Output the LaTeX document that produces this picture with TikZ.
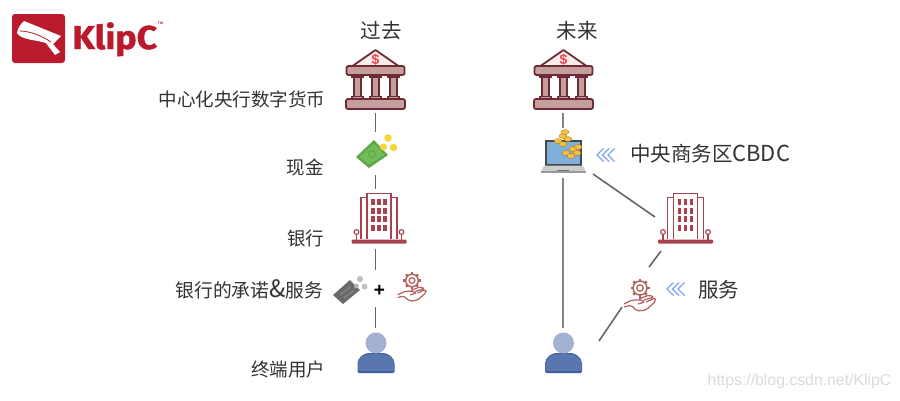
\documentclass[tikz,border=0pt]{standalone}
\usepackage{fontspec}
\setmainfont{Noto Sans CJK SC}
\newfontfamily\latinf{Liberation Sans}
\newfontfamily\logof{Fira Sans}[UprightFont=* Bold,FakeBold=1.2,FakeStretch=1.08]
\definecolor{bankline}{HTML}{6E2B35}
\definecolor{bankfill}{HTML}{C49F9C}
\definecolor{roofpale}{HTML}{FBEEE9}
\definecolor{dollar}{HTML}{EE3F4A}
\definecolor{bldg}{HTML}{A8434E}
\definecolor{svc}{HTML}{B4605F}
\definecolor{headc}{HTML}{A3B2D2}
\definecolor{bodyc}{HTML}{5A76AE}
\definecolor{bodyd}{HTML}{3F5E9F}
\definecolor{logored}{HTML}{BA1B2C}
\definecolor{chev}{HTML}{80A6F2}
\definecolor{txt}{HTML}{333333}
\definecolor{conn}{HTML}{666666}
\definecolor{cashd}{HTML}{5CA845}
\definecolor{cashl}{HTML}{72BC58}
\definecolor{coin}{HTML}{F4D63E}
\definecolor{gold}{HTML}{EFC443}
\definecolor{screen}{HTML}{7FB0DC}
\tikzset{
  x=1pt,y=-1pt,
  anchorbox/.style={inner sep=0pt,outer sep=0pt,minimum width=10pt},
  lab/.style={inner sep=0pt,outer sep=0pt,text=txt,font=\fontsize{18.5}{20}\selectfont},
  head/.style={inner sep=0pt,outer sep=0pt,text=txt,font=\fontsize{20.5}{22}\selectfont},
  link/.style={draw=conn,line width=1.6pt},
  linkgrey/.style={draw=black!48,line width=2pt},
  bank/.pic={
    \draw[bankline,line width=1.8pt,fill=roofpale,line join=round] (-23,-15) -- (0,-31) -- (23,-15) -- cycle;
    \node[inner sep=0pt,text=dollar,font=\latinf\bfseries\fontsize{14}{14}\selectfont] at (0,-21) {\$};
    \foreach \c in {-18,0,18}{
      \draw[bankline,line width=1.6pt,fill=bankfill] (\c-3.5,-5) rectangle (\c+3.5,17);
      \draw[bankline,line width=1.6pt,fill=bankfill] (\c-5.5,-6) rectangle (\c+5.5,-4);
      \draw[bankline,line width=1.6pt,fill=bankfill] (\c-5.5,15.5) rectangle (\c+5.5,18);
    }
    \draw[bankline,line width=1.8pt,fill=bankfill,rounded corners=2pt] (-29,-15) rectangle (29,-6);
    \draw[bankline,line width=1.8pt,fill=bankfill,rounded corners=2pt] (-29.5,18) rectangle (29.5,28);
  },
  building/.pic={
    \draw[bldg,line width=1.8pt] (-12,48) -- (-12,6.5) -- (-18,6.5) -- (-18,48);
    \draw[bldg,line width=1.8pt] (12,48) -- (12,6.5) -- (18,6.5) -- (18,48);
    \draw[bldg,line width=1.8pt] (-12,48) -- (-12,2.5) -- (12,2.5) -- (12,48);
    \foreach \i in {-6,0,6}\foreach \j in {11,20,28,37}
      \fill[bldg] (\i-1.6,\j-2.8) rectangle (\i+1.6,\j+2.8);
    \foreach \t in {-22.5,22.5}{
      \draw[bldg,line width=1.1pt] (\t,41) circle[radius=2.4pt];
      \draw[bldg,line width=1.1pt] (\t,43.4) -- (\t,49);
    }
    \fill[bldg,rounded corners=1pt] (-27.5,48.5) rectangle (27.5,52.5);
  },
  service/.pic={
    \foreach \a in {0,45,...,315}\draw[svc,line width=2.2pt] (\a:6.6) -- (\a:9.5);
    \draw[svc,line width=1.4pt] (0,0) circle[radius=7pt];
    \draw[svc,line width=1.2pt] (0,0) circle[radius=3.2pt];
    \draw[svc,line width=1.2pt,line join=round,rounded corners=2pt]
      (-16,16) -- (-8,12) -- (2,12) -- (5,14) -- (-2,16) (-16,19) -- (-9,17) -- (-3,23) -- (6,22) -- (16,13) -- (15,10) -- (6,14) (4,12) -- (14,9) -- (9,7) -- (-1,11);
  },
  person/.pic={
    \fill[bodyd,rounded corners=1.5pt] (-18.5,30) -- (-18.5,22) .. controls (-18.5,14) and (-11,10) .. (-6,10) -- (6,10) .. controls (11,10) and (18.5,14) .. (18.5,22) -- (18.5,30) -- cycle;
    \fill[bodyc,rounded corners=1pt] (-18,28) -- (-18,22) .. controls (-18,15) and (-11,11) .. (-6,11) -- (6,11) .. controls (11,11) and (18,15) .. (18,22) -- (18,28) -- cycle;
    \fill[headc] (0,0) circle[radius=10.5pt];
  },
  chevrons/.pic={
    \foreach \d in {0,5.5,11}
      \draw[chev,line width=1.3pt] (\d+6.5,-6.5) -- (\d,0) -- (\d+6.5,6.5);
  }
}
\begin{document}
\begin{tikzpicture}
\useasboundingbox (0,0) rectangle (900,400);
\fill[white] (0,0) rectangle (900,400);

% logo
\fill[logored,rounded corners=3pt] (12,14) rectangle (65,63);
\fill[white,line join=round] (17,33) .. controls (18,27) and (21,24) .. (24,21) -- (61,36) -- (53,44) -- (60,52) -- (55,55) -- (46,43) .. controls (36,40) and (26,40) .. (20,36) -- cycle;
\draw[logored,line width=.8pt] (20,31) .. controls (30,31) and (42,36) .. (51,42);
\node[inner sep=0pt,anchor=base west,text=logored,font=\logof\fontsize{33}{33}\selectfont] (logotext) at (72,49) {KlipC};
\node[inner sep=0pt,text=logored,font=\latinf\bfseries\fontsize{3.5}{4}\selectfont] (tm) at (160.5,23.5) {TM};

% headings
\node[head] (h1) at (381,31) {过去};
\node[head] (h2) at (577,31) {未来};

% left labels
\node[lab,anchor=east] (l1) at (325,99) {中心化央行数字货币};
\node[lab,anchor=east] (l2) at (323.5,167) {现金};
\node[lab,anchor=east] (l3) at (324,238) {银行};
\node[lab,anchor=east,font=\fontsize{18.8}{20}\selectfont] (l4) at (323.5,289) {银行的承诺{\fontsize{24}{24}\selectfont\&}服务};
\node[lab,anchor=east] (l5) at (325,369) {终端用户};

% right labels
\node[lab,anchor=west,font=\fontsize{20.5}{22}\selectfont] (r1) at (630,154) {中央商务区{\fontsize{22}{22}\selectfont CBDC}};
\node[lab,anchor=west,font=\fontsize{20.5}{22}\selectfont] (r2) at (698,290) {服务};

% anchors for the connectors
\node[anchorbox,minimum height=62pt] (bankA) at (375.5,82) {};
\node[anchorbox,minimum height=43pt] (cashA) at (375.5,153.5) {};
\node[anchorbox,minimum height=60pt] (bldgA) at (375.5,219) {};
\node[anchorbox,minimum height=37pt] (promA) at (375.5,288.5) {};
\node[anchorbox,minimum height=44pt] (userA) at (375.5,350) {};
\node[anchorbox,minimum height=62pt] (bankB) at (563,82) {};
\node[anchorbox,minimum height=50pt] (lapB) at (563,153) {};
\node[anchorbox,minimum height=44pt] (userB) at (563,350) {};
\coordinate (lapOut) at (593,174);
\coordinate (bldgIn) at (655,217);
\coordinate (bldgOut) at (661,251);
\coordinate (svcIn) at (649,267);
\coordinate (svcOut) at (622,307);
\coordinate (userIn) at (599,341);

% connectors
\draw[link] (bankA.south) -- (cashA.north);
\draw[link] (cashA.south) -- (bldgA.north);
\draw[link] (bldgA.south) -- (promA.north);
\draw[link] (promA.south) -- (userA.north);
\draw[linkgrey] (bankB.south) -- (lapB.north);
\draw[linkgrey] (lapB.south) -- (userB.north);
\draw[link] (lapOut) -- (bldgIn);
\draw[link] (bldgOut) -- (svcIn);
\draw[link] (svcOut) -- (userIn);

% icons
\pic at (375.5,81) {bank};
\pic at (563.5,81) {bank};
\pic at (379,191) {building};
\pic at (685.5,191) {building};
\pic at (376,343) {person};
\pic at (563.5,343) {person};

% cash
\fill[cashd] (356,157) -- (374,140) -- (388,155) -- (369,168) -- cycle;
\fill[cashl] (359.5,157) -- (374,143.5) -- (384.5,155) -- (369,164.5) -- cycle;
\draw[cashd,line width=.8pt] (372,154) circle[radius=3.5pt];
\fill[coin] (388,138) circle[radius=3.8pt];
\fill[coin] (393.5,147.5) circle[radius=3.8pt];
\fill[coin] (383.5,147) circle[radius=3.6pt];

% promise ticket
\fill[black!58] (333,295) -- (350,280) -- (360,290) -- (343,304) -- cycle;
\draw[black!40,line width=.6pt] (340,295) -- (350,287) (344,298) -- (353,291);
\fill[black!25] (360,279) circle[radius=3.2pt];
\fill[black!25] (364.5,286.5) circle[radius=3pt];
\fill[black!30] (356.5,286) circle[radius=2.4pt];
\node[inner sep=0pt,text=black,font=\latinf\bfseries\fontsize{19}{20}\selectfont] (plus) at (379.5,290.5) {+};

% service
\pic[scale=.9] at (412,280.5) {service};
\pic at (640,288) {service};

% laptop
\fill[black!72] (545,139.5) rectangle (582,165.5);
\fill[screen] (547,141.5) rectangle (580,163.5);
\fill[black!20,rounded corners=1pt] (544,165.5) -- (583,165.5) -- (585.5,171) -- (541,171) -- cycle;
\fill[black!40] (541,171) rectangle (585.5,173);
\fill[black!55] (557,169.5) rectangle (569,171);
\foreach \p/\q in {558/141,563/136,568/139,565/132,563/144,566/153,573/149,571/156,577/153,578/147}
  \fill[gold,draw=orange!70!black,line width=.25pt] (\p,\q) ellipse[x radius=4pt,y radius=2.5pt];

% chevrons
\pic at (597,155) {chevrons};
\pic at (667,289) {chevrons};

% watermark
\node[inner sep=0pt,text=black!14,font=\latinf\fontsize{15.8}{17}\selectfont,anchor=east] (wm) at (891.5,381) {https://blog.csdn.net/KlipC};
\end{tikzpicture}
\end{document}
